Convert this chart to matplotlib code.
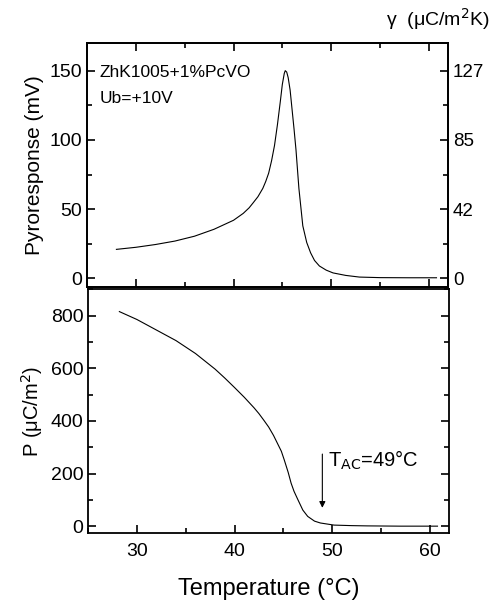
import matplotlib.pyplot as plt
from matplotlib.ticker import MultipleLocator

plt.rcParams['font.family'] = ['Liberation Sans', 'DejaVu Sans']

# pyroresponse (top panel)
t_pyro = [28.0, 30.0, 32.0, 34.0, 36.0, 38.0, 40.0, 41.0, 41.6, 42.0, 42.5, 43.0,
          43.3, 43.6, 43.9, 44.2, 44.5, 44.8, 45.0, 45.2, 45.3, 45.45, 45.6, 45.8,
          46.0, 46.2, 46.4, 46.7, 47.1, 47.5, 47.9, 48.3, 48.8, 49.5, 50.2, 51.5,
          52.9, 55.0, 58.0, 60.8]
v_pyro = [21, 22.5, 24.5, 27, 30.5, 35.5, 42, 47, 51, 54.5, 59, 65,
          70, 76, 85, 96, 111, 128, 140, 148, 150, 149, 145, 136,
          122, 108, 93, 65, 38, 26, 18.5, 13, 9, 6, 4, 2.2,
          1, 0.6, 0.5, 0.5]

# polarization (bottom panel)
t_pol = [28.2, 30.0, 32.0, 34.0, 36.0, 38.0, 39.0, 40.0, 41.0, 42.0, 42.5, 43.0,
         43.5, 44.0, 44.4, 44.8, 45.1, 45.5, 45.8, 46.1, 46.5, 47.0, 47.5, 48.2,
         48.8, 50.2, 52.0, 53.6, 57.0, 60.8]
p_pol = [815, 785, 745, 705, 656, 597, 563, 527, 490, 450, 428, 403,
         377, 345, 315, 285, 252, 205, 164, 133, 101, 62, 38, 20,
         13, 5, 3, 2, 1, 1]

left_ticks = [0, 50, 100, 150]
right_labels = ['0', '42', '85', '127']

fig = plt.figure(figsize=(4.98, 6.05), dpi=100)
ax1 = fig.add_axes([0.175, 0.526, 0.725, 0.403])
ax2 = fig.add_axes([0.177, 0.119, 0.725, 0.403])

ax1.plot(t_pyro, v_pyro, color='black', lw=0.8)
ax1.set_xlim(25, 62)
ax1.set_ylim(-6, 170)
ax1.set_yticks(left_ticks)
ax1.yaxis.set_minor_locator(MultipleLocator(25))
ax1.xaxis.set_major_locator(MultipleLocator(10))
ax1.xaxis.set_minor_locator(MultipleLocator(5))
ax1.tick_params(which='both', direction='in', top=True, bottom=True, right=True,
                labelbottom=False, labelsize=14, width=1.2)
ax1.tick_params(which='major', length=6)
ax1.tick_params(which='minor', length=3.5)
ax1.set_ylabel('Pyroresponse (mV)', fontsize=15, labelpad=4)
ax1.text(26.3, 149, 'ZhK1005+1%PcVO', fontsize=12.5, va='center')
ax1.text(26.3, 130, 'Ub=+10V', fontsize=12.5, va='center')

axr = ax1.twinx()
axr.set_ylim(ax1.get_ylim())
axr.set_yticks(left_ticks)
axr.set_yticklabels(right_labels)
axr.yaxis.set_minor_locator(MultipleLocator(25))
axr.tick_params(which='both', direction='in', labelsize=13.5, width=1.2)
axr.tick_params(which='major', length=6)
axr.tick_params(which='minor', length=3.5)
fig.text(0.984, 0.968, 'γ  (μC/m$^2$K)', ha='right', va='center', fontsize=14)

ax2.plot(t_pol, p_pol, color='black', lw=0.8)
ax2.set_xlim(25, 62)
ax2.set_ylim(-25, 900)
ax2.yaxis.set_major_locator(MultipleLocator(200))
ax2.yaxis.set_minor_locator(MultipleLocator(100))
ax2.xaxis.set_major_locator(MultipleLocator(10))
ax2.xaxis.set_minor_locator(MultipleLocator(5))
ax2.tick_params(which='both', direction='in', right=True, labelsize=14, width=1.2)
ax2.tick_params(which='major', length=6)
ax2.tick_params(which='minor', length=3.5)
ax2.tick_params(axis='x', pad=7)
ax2.set_ylabel('P (μC/m$^2$)', fontsize=14.5, labelpad=4)
ax2.set_xlabel('Temperature (°C)', fontsize=17, labelpad=13)
ax2.annotate('', xy=(49.0, 60), xytext=(49.0, 285),
             arrowprops=dict(arrowstyle='-|>', color='black', lw=0.8,
                             mutation_scale=9))
ax2.text(49.6, 250, 'T$_{\\rm AC}$=49°C', fontsize=14.5, va='center')

for a in (ax1, axr, ax2):
    for s in a.spines.values():
        s.set_linewidth(1.3)

fig.savefig('out.png', dpi=100)
